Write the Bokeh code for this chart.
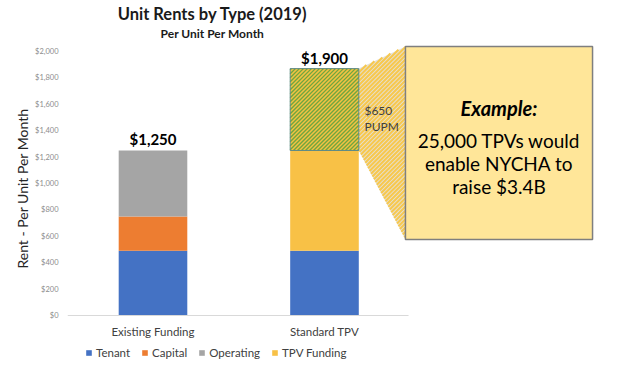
import math
from bokeh.plotting import figure
from bokeh.models import ColumnDataSource, Range1d, FixedTicker, Legend, NumeralTickFormatter, LinearAxis
from bokeh.core.properties import value
from bokeh.embed import file_html
from bokeh.resources import INLINE

# ---- data ----
categories = ["Existing Funding", "Standard TPV"]
tenant = [490, 490]
capital = [260, 0]
operating = [500, 0]
tpv_funding = [0, 760]
tpv_extra = 620          # hatched $650 PUPM increment (as drawn)
total_labels = ["$1,250", "$1,900"]
y_ticks = [0, 200, 400, 600, 800, 1000, 1200, 1400, 1600, 1800, 2000]
series_names = ["Tenant", "Capital", "Operating", "TPV Funding"]
series_colors = ["#4472C4", "#ED7D31", "#A5A5A5", "#F8C146"]

FONT = "Lato"
xs = list(range(len(categories)))
bar_w = 0.4

X0, X1 = -0.4985, 2.761
Y0, Y1 = -462, 2386
FRAME_W, FRAME_H = 626 - 67, 376
KX = FRAME_W / (X1 - X0)     # px per x unit
KY = FRAME_H / (Y1 - Y0)     # px per y unit

src = ColumnDataSource(dict(x=xs, Tenant=tenant, Capital=capital,
                            Operating=operating, TPV=tpv_funding))

p = figure(width=626, height=376, output_backend="svg", toolbar_location=None,
           title_location=None, x_axis_location=None,
           x_range=Range1d(X0, X1), y_range=Range1d(Y0, Y1),
           min_border_left=67, min_border_right=0, min_border_top=0, min_border_bottom=0)
p.outline_line_color = None
p.grid.visible = False

# y axis
ax = p.yaxis[0]
ax.ticker = FixedTicker(ticks=y_ticks)
ax.formatter = NumeralTickFormatter(format="$0,0")
ax.axis_line_color = None
ax.major_tick_line_color = None
ax.major_tick_out = 0
ax.major_tick_in = 0
ax.minor_tick_line_color = None
ax.minor_tick_out = 0
ax.major_label_text_font = FONT
ax.major_label_text_font_size = "7.5px"
ax.major_label_text_color = "#8C8C8C"
ax.major_label_standoff = 9
ax.axis_label = "Rent - Per Unit Per Month"
ax.axis_label_text_font = FONT
ax.axis_label_text_font_style = "normal"
ax.axis_label_text_font_size = "14px"
ax.axis_label_text_color = "#262626"
ax.axis_label_standoff = 1

# outer spacer axis (no ticks, no text) to push the real axis toward the frame
spacer = LinearAxis(ticker=FixedTicker(ticks=[]), axis_line_color=None,
                    major_tick_out=12, major_tick_in=0, minor_tick_out=0,
                    major_tick_line_color=None, minor_tick_line_color=None,
                    major_label_standoff=0)
p.add_layout(spacer, "left")


def stripes(poly_x, poly_y, step_px):
    """Clip 45-degree stripes (screen space) to a convex polygon given in data coords."""
    P = [((x - X0) * KX, (y - Y0) * KY) for x, y in zip(poly_x, poly_y)]
    area = sum(P[i][0] * P[(i + 1) % len(P)][1] - P[(i + 1) % len(P)][0] * P[i][1] for i in range(len(P)))
    if area < 0:
        P = P[::-1]
    cs = [px - py for px, py in P]
    x0s, y0s, x1s, y1s = [], [], [], []
    c = math.floor(min(cs) / step_px) * step_px
    while c <= max(cs):
        tmin, tmax = -1e9, 1e9
        ok = True
        for i in range(len(P)):
            ax_, ay_ = P[i]
            bx_, by_ = P[(i + 1) % len(P)]
            ex, ey = bx_ - ax_, by_ - ay_
            nx, ny = -ey, ex
            num = nx * (c - ax_) + ny * (0 - ay_)
            den = nx + ny
            if abs(den) < 1e-12:
                if num < 0:
                    ok = False
                    break
                continue
            t = -num / den
            if den > 0:
                tmin = max(tmin, t)
            else:
                tmax = min(tmax, t)
        if ok and tmax > tmin:
            for t, xl, yl in ((tmin, x0s, y0s), (tmax, x1s, y1s)):
                xl.append((c + t) / KX + X0)
                yl.append(t / KY + Y0)
        c += step_px
    return x0s, y0s, x1s, y1s


# stacked bars
stackers = ["Tenant", "Capital", "Operating", "TPV"]
renderers = p.vbar_stack(stackers, x="x", width=bar_w, fill_color=series_colors,
                         line_color=None, source=src)

# hatched increment on Standard TPV
base_tpv = tenant[1] + tpv_funding[1]
top_tpv = base_tpv + tpv_extra
bl, br = xs[1] - bar_w / 2, xs[1] + bar_w / 2

# callout box & connector
box_left, box_right = 1.472, 2.563
box_bottom, box_top = 576, 2038
trap_x = [br, box_left, box_left, br]
trap_y = [top_tpv, box_top, box_bottom, base_tpv]
p.patch(x=trap_x, y=trap_y, fill_color="#E4E1D9", line_color=None)
sx0, sy0, sx1, sy1 = stripes(trap_x, trap_y, 4.2)
p.segment(x0=sx0, y0=sy0, x1=sx1, y1=sy1, line_color="#F7C84E", line_width=2.1)

p.quad(left=[bl], right=[br], bottom=[base_tpv], top=[top_tpv],
       fill_color="#F5C242", line_color=None)
sx0, sy0, sx1, sy1 = stripes([bl, br, br, bl], [base_tpv, base_tpv, top_tpv, top_tpv], 4.0)
p.segment(x0=sx0, y0=sy0, x1=sx1, y1=sy1, line_color="#6FA640", line_width=1.4)
p.quad(left=[bl], right=[br], bottom=[base_tpv], top=[top_tpv],
       fill_color=None, line_color="#5E8A86", line_width=1)

p.quad(left=[box_left], right=[box_right], bottom=[box_bottom], top=[box_top],
       fill_color="#FFE699", line_color="#7F7F7F", line_width=1.5)

# bar total labels
totals = [tenant[0] + capital[0] + operating[0], top_tpv]
p.text(x=xs, y=totals, text=total_labels, text_align="center", text_baseline="bottom",
       y_offset=-2, text_font=value(FONT), text_font_style="bold",
       text_font_size="15px", text_color="#000000")

# category labels
p.text(x=xs, y=[-121, -121], text=categories, text_align="center", text_baseline="middle",
       text_font=value(FONT), text_font_size="11.5px", text_color="#404040")

# $650 PUPM
p.text(x=[1.233, 1.233], y=[1553, 1432], text=["$650", "PUPM"], text_align="left",
       text_baseline="middle", text_font=value(FONT), text_font_size="12px",
       text_color="#404040")

# callout text
cx = (box_left + box_right) / 2
p.text(x=[cx], y=[1568], text=["Example:"], text_align="center", text_baseline="middle",
       text_font=value(FONT), text_font_style="bold italic", text_font_size="20px",
       text_color="#000000")
p.text(x=[cx, cx, cx], y=[1326, 1152, 977],
       text=["25,000 TPVs would", "enable NYCHA to", "raise $3.4B"],
       text_align="center", text_baseline="middle", text_font=value(FONT),
       text_font_size="19px", text_color="#000000")

# titles
p.text(x=[0.347], y=[2280], text=["Unit Rents by Type (2019)"], text_align="center",
       text_baseline="middle", text_font=value(FONT), text_font_style="bold",
       text_font_size="16.5px", text_color="#1A1A1A")
p.text(x=[0.347], y=[2136], text=["Per Unit Per Month"], text_align="center",
       text_baseline="middle", text_font=value(FONT), text_font_style="bold",
       text_font_size="12px", text_color="#1A1A1A")

# baseline
p.segment(x0=[X0], x1=[1.49], y0=[0], y1=[0], line_color="#D9D9D9", line_width=1)

# legend
legend = Legend(items=[(n, [r]) for n, r in zip(series_names, renderers)],
                orientation="horizontal", location=(18, 17),
                padding=0, margin=0, spacing=11, label_standoff=4,
                glyph_width=7, glyph_height=7,
                label_text_font=FONT, label_text_font_size="11.5px",
                label_text_color="#404040",
                border_line_color=None, background_fill_alpha=0)
p.add_layout(legend)

open("out.html", "w").write(file_html(p, INLINE))
